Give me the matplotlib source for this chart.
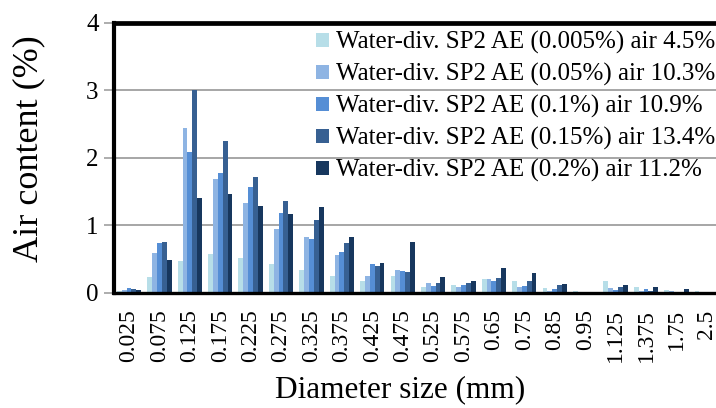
import numpy as np
import matplotlib
matplotlib.use("Agg")
import matplotlib.pyplot as plt

plt.rcParams['font.family'] = ['Liberation Serif', 'DejaVu Serif']

categories = ['0.025', '0.075', '0.125', '0.175', '0.225', '0.275', '0.325', '0.375',
              '0.425', '0.475', '0.525', '0.575', '0.65', '0.75', '0.85', '0.95',
              '1.125', '1.375', '1.75', '2.5']

series_names = ['Water-div. SP2 AE (0.005%) air 4.5%',
                'Water-div. SP2 AE (0.05%) air 10.3%',
                'Water-div. SP2 AE (0.1%) air 10.9%',
                'Water-div. SP2 AE (0.15%) air 13.4%',
                'Water-div. SP2 AE (0.2%) air 11.2%']

s_0005 = [0.02, 0.24, 0.47, 0.57, 0.51, 0.42, 0.34, 0.25, 0.17, 0.25, 0.09, 0.11, 0.20, 0.17, 0.07, 0.02, 0.17, 0.09, 0.04, 0.03]
s_005 = [0.04, 0.59, 2.44, 1.68, 1.33, 0.95, 0.83, 0.56, 0.25, 0.34, 0.15, 0.09, 0.20, 0.09, 0.03, 0.01, 0.07, 0.03, 0.02, 0.01]
s_01 = [0.07, 0.73, 2.09, 1.78, 1.56, 1.18, 0.80, 0.61, 0.42, 0.32, 0.10, 0.11, 0.18, 0.10, 0.06, 0.01, 0.04, 0.05, 0.01, 0.01]
s_015 = [0.05, 0.75, 3.01, 2.25, 1.71, 1.36, 1.08, 0.74, 0.39, 0.30, 0.14, 0.15, 0.22, 0.18, 0.11, 0.01, 0.09, 0.02, 0.01, 0.01]
s_02 = [0.04, 0.49, 1.41, 1.46, 1.28, 1.17, 1.27, 0.83, 0.44, 0.75, 0.23, 0.18, 0.37, 0.29, 0.13, 0.01, 0.11, 0.08, 0.06, 0.01]

series = [s_0005, s_005, s_01, s_015, s_02]
colors = ['#b7dee8', '#8eb4e3', '#558ed5', '#376092', '#17375e']

W, H = 716, 408
fig = plt.figure(figsize=(W / 100, H / 100), dpi=100)
ax = fig.add_axes([113.8 / W, 1 - 292.7 / H, (722 - 113.8) / W, (292.7 - 22.7) / H])

x = np.arange(len(categories))
bw = 0.16
for i, (vals, name, c) in enumerate(zip(series, series_names, colors)):
    ax.bar(x + (i - 2) * bw, vals, width=bw, color=c, label=name, zorder=3,
           edgecolor='none')

ax.set_xlim(-0.5, len(categories) - 0.5)
ax.set_ylim(0, 4)
ax.set_yticks([0, 1, 2, 3, 4])
ax.set_xticks(x)
ax.set_xticklabels(categories, rotation=90, fontsize=17, va='top', ha='center')
ax.tick_params(axis='x', length=0, pad=12)
ax.tick_params(axis='y', length=7, width=1.2, color='#a0a0a0', labelsize=18, pad=4)
ax.yaxis.grid(True, color='#a6a6a6', linewidth=1.4, zorder=0)
ax.set_axisbelow(True)

ax.spines['top'].set_linewidth(3.4)
ax.spines['left'].set_linewidth(3.0)
ax.spines['right'].set_linewidth(3.0)
ax.spines['bottom'].set_linewidth(2.4)
for s in ax.spines.values():
    s.set_color('black')
    s.set_zorder(5)

fig.text(29 / W, 1 - 148.5 / H, 'Air content (%)', rotation=90, fontsize=26,
         ha='center', va='center')
fig.text(400 / W, 1 - 390 / H, 'Diameter size (mm)', fontsize=22.5,
         ha='center', va='center')

leg = ax.legend(loc='upper left', bbox_to_anchor=(316 / W, 1 - 31 / H),
                bbox_transform=fig.transFigure, frameon=False, fontsize=18,
                handlelength=0.52, handleheight=0.52, handletextpad=0.3,
                labelspacing=0.36, borderpad=0, borderaxespad=0)

fig.savefig('out.png', dpi=100)
